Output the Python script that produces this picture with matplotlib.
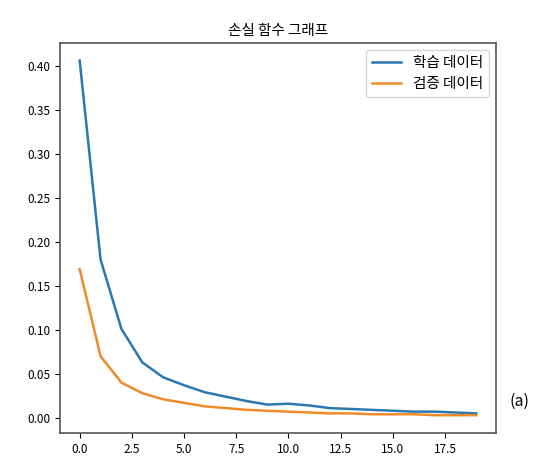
import matplotlib
matplotlib.use("Agg")
import matplotlib.pyplot as plt

plt.rcParams['font.family'] = ['Noto Sans CJK KR', 'DejaVu Sans']

# loss per epoch
epochs = list(range(20))
train_loss = [0.406, 0.180, 0.101, 0.063, 0.046, 0.037, 0.029, 0.024, 0.019, 0.015,
              0.016, 0.014, 0.011, 0.010, 0.009, 0.008, 0.007, 0.007, 0.006, 0.005]
val_loss = [0.169, 0.070, 0.040, 0.028, 0.021, 0.017, 0.013, 0.011, 0.009, 0.008,
            0.007, 0.006, 0.005, 0.005, 0.004, 0.004, 0.004, 0.003, 0.003, 0.003]

fig = plt.figure(figsize=(5.44, 4.61), dpi=100)
ax = fig.add_axes([0.110, 0.061, 0.802, 0.846])
ax.plot(epochs, train_loss, color='#2b78b0', lw=1.8, label='학습 데이터')
ax.plot(epochs, val_loss, color='#f08a2c', lw=1.8, label='검증 데이터')

ax.set_title('손실 함수 그래프', fontsize=10.5)
ax.tick_params(labelsize=8.5)
ax.set_yticks([0.0, 0.05, 0.10, 0.15, 0.20, 0.25, 0.30, 0.35, 0.40])
ax.set_yticklabels(['%.2f' % v for v in ax.get_yticks()])
for s in ax.spines.values():
    s.set_color('#555555')
    s.set_linewidth(1.2)
ax.legend(loc='upper right', fontsize=10.5)

fig.text(0.955, 0.13, '(a)', fontsize=11.5, ha='center', va='center')

fig.savefig('out.png', dpi=100)
